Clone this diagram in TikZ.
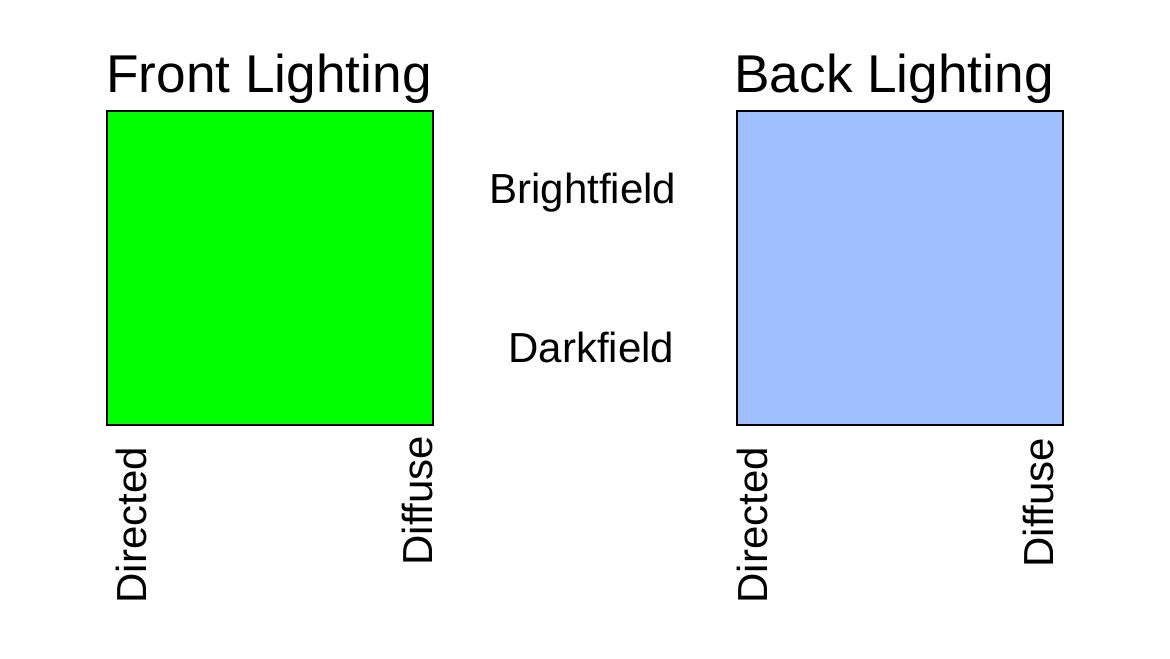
\documentclass[tikz,border=0pt]{standalone}
\usepackage{fontspec}
\setmainfont{Liberation Sans}
\usepackage{tikz}
\usetikzlibrary{positioning}
\definecolor{frontgreen}{HTML}{00FF00}
\definecolor{backblue}{HTML}{A0BFFF}

\begin{document}
\begin{tikzpicture}[
    x=0.5pt, y=-0.5pt,
    panel/.style={
		rectangle,
		draw=black,
		line width=1pt,
		minimum width=163pt,
		minimum height=157pt,
		inner sep=0pt
	},
	title/.style={
		font=\fontsize{26.6}{30}\selectfont,
		inner sep=0pt,
		anchor=base west
	},
	label/.style={
		font=\fontsize{21}{24}\selectfont,
		inner sep=0pt,
		anchor=base west
	},
	axis/.style={
		label,
		rotate=90
	}
  ]
  \useasboundingbox (0,0) rectangle (1170,658);
    % the two panels

  \node [panel, fill=frontgreen] (frontbox) at (270,268) {};
  \node [panel, fill=backblue] (backbox) at (899.5,267.5) {};

  \node [title] (fronttitle) at (106,92) {Front Lighting};
  \node [title] (backtitle) at (734,92) {Back Lighting};

    % middle labels
  \node [label] (bright) at (489,203) {Brightfield};
  \node [label] (dark) at (508,362) {Darkfield};

    % labels under the panels
  \node [axis] (frontdir) at (146,604) {Directed};
  \node [axis] (frontdif) at (432,566) {Diffuse};
  \node [axis] (backdir) at (767,604) {Directed};
  \node [axis] (backdif) at (1053,568) {Diffuse};

\end{tikzpicture}
\end{document}
